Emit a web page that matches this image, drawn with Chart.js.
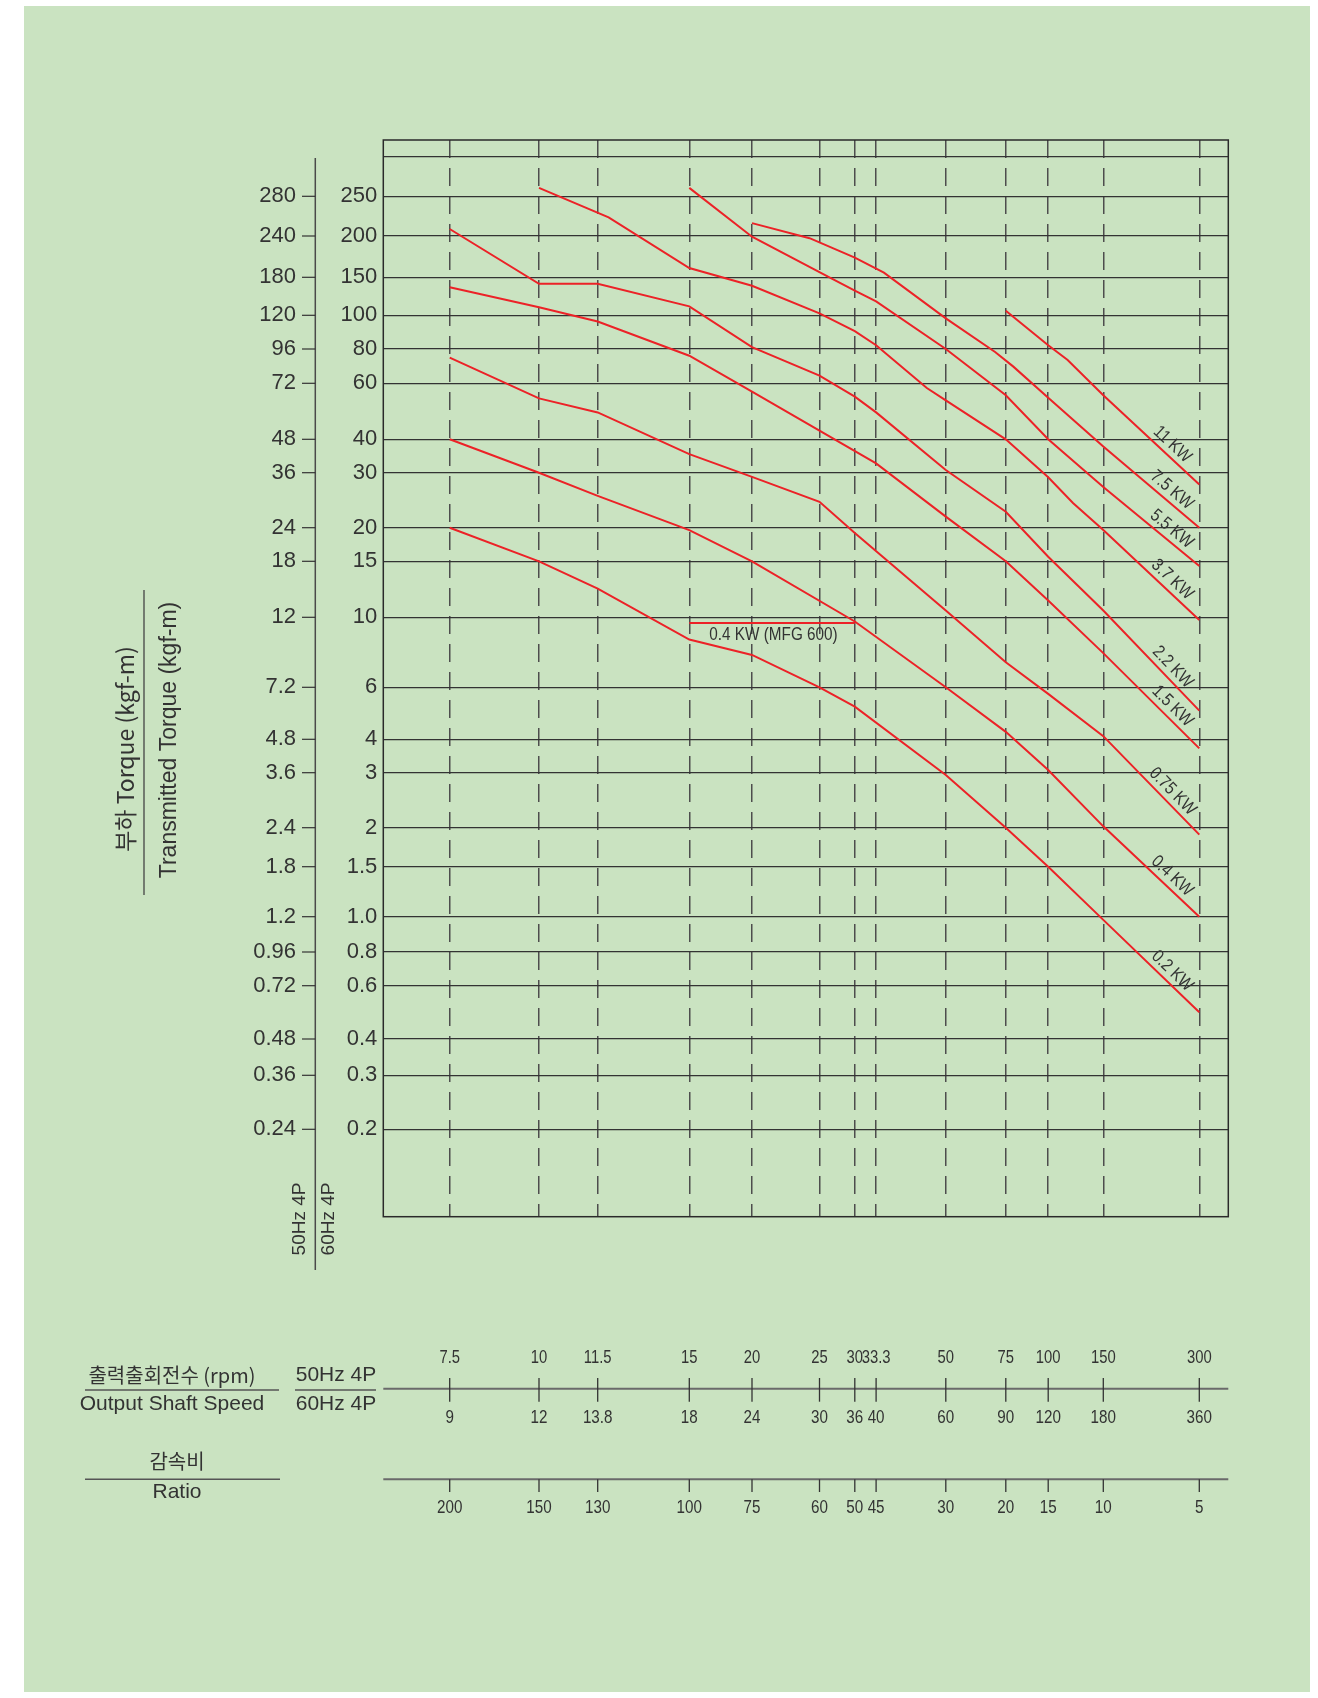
<!DOCTYPE html>
<html><head><meta charset="utf-8">
<script src="https://cdn.jsdelivr.net/npm/chart.js@4.4.0/dist/chart.umd.min.js"></script>
<style>
html,body{margin:0;padding:0;background:#ffffff;}
#bg{position:absolute;left:24px;top:6px;width:1286px;height:1686px;background:#cae3c1;}
canvas{position:absolute;left:0;top:0;}
</style></head><body>
<div id="bg"></div>
<canvas id="c" width="1318" height="1698"></canvas>
<script>
// ---------------- DATA ----------------
const ratioTicks = [200,150,130,100,75,60,50,45,30,20,15,10,5];
const ratioLabels = ['200','150','130','100','75','60','50','45','30','20','15','10','5'];
const speed50Labels = ['7.5','10','11.5','15','20','25','30','33.3','50','75','100','150','300'];
const speed60Labels = ['9','12','13.8','18','24','30','36','40','60','90','120','180','360'];

const torqueTicks = [300,250,200,150,100,80,60,40,30,20,15,10,6,4,3,2,1.5,1.0,0.8,0.6,0.4,0.3,0.2];
const torqueLabels60 = ['','250','200','150','100','80','60','40','30','20','15','10','6','4','3','2','1.5','1.0','0.8','0.6','0.4','0.3','0.2'];
const torqueLabels50 = ['','280','240','180','120','96','72','48','36','24','18','12','7.2','4.8','3.6','2.4','1.8','1.2','0.96','0.72','0.48','0.36','0.24'];

const ratio_11kw  = [20,15,13,10,5];
const torque_11kw = [105,82,73,55,27.5];
const ratio_7_5kw  = [75,62,50,43,30,21.5,19,15,10,5];
const torque_7_5kw = [215,197,172,155,98,78,69,54,37.6,20];
const ratio_5_5kw  = [100,75,57,50,45,30,20,15,10,5];
const torque_5_5kw = [260,199,150,130,116,80,55,40,27,14.5];
const ratio_3_7kw  = [150,126,100,75,60,50,45,33.5,30,20,15,12.5,10,5];
const torque_3_7kw = [260,222,160,137,102,90,82,58,53,40,29,24,19.6,9.8];
const ratio_2_2kw  = [200,150,130,100,75,60,50,45,30,20,15,10,5];
const torque_2_2kw = [208,140,140,110,81,64,54.5,48.6,30.7,22.5,15.6,10.5,5];
const ratio_1_5kw  = [200,150,130,100,75,45,30,20,15,10,5];
const torque_1_5kw = [135,109,96,75.6,56.5,32.5,21.7,15,11.3,7.7,3.7];
const ratio_0_75kw  = [200,150,130,100,75,60,50,30,20,15,10,5];
const torque_0_75kw = [74.4,53.8,48.6,35.2,29.1,24.2,19.1,10.5,7.2,5.7,4.1,1.9];
const ratio_0_4kw  = [200,150,130,100,75,50,30,20,15,10,5];
const torque_0_4kw = [40,30,25.3,19.6,15,9.7,6,4.24,3.07,2.02,1.0];
const ratio_0_2kw  = [200,150,130,100,75,60,50,30,20,15,10,5];
const torque_0_2kw = [20,15,12.3,8.5,7.6,6,5.16,2.95,2,1.5,0.98,0.49];
const ratio_mfg600  = [100,50];
const torque_mfg600 = [9.6,9.6];

// ---------------- LAYOUT (axis geometry of the printed chart) ----------------
const ratioAxisPos = [66.4,155.7,214.4,306,368.7,436.2,471.5,492.8,562.5,622.5,664.9,720,816];
const xAxisMax = 845;
const torqueAxisPos = [1059.7,1020.4,980.7,939.4,901.4,867.7,833.4,777.4,744.0,689.0,655.4,599.4,529.4,477.4,444.0,389.0,350.0,300.0,264.7,231.0,177.7,141.4,87.4];
const yAxisMax = 1076.7;
const AREA = {left:383.3, top:140, right:1228.3, bottom:1216.7};
const Y_AXIS_W = 62;

function interpLog(v, vals, pos){
  const n = vals.length;
  let i = 0;
  for (; i < n-2; i++){
    const lo = Math.min(vals[i],vals[i+1]), hi = Math.max(vals[i],vals[i+1]);
    if (v >= lo && v <= hi) break;
  }
  const a = vals[i], b = vals[i+1];
  const f = Math.log(v/a)/Math.log(b/a);
  return pos[i] + f*(pos[i+1]-pos[i]);
}
const xUnit = r => interpLog(r, ratioTicks, ratioAxisPos);
const yUnit = t => interpLog(t, torqueTicks, torqueAxisPos);

const RED = '#ec2227';
function mk(label, rs, ts){
  return {label, data: rs.map((r,i)=>({x:xUnit(r), y:yUnit(ts[i])})),
    borderColor:RED, borderWidth:2, pointRadius:0, tension:0, fill:false};
}
const datasets = [
  mk('11 KW', ratio_11kw, torque_11kw),
  mk('7.5 KW', ratio_7_5kw, torque_7_5kw),
  mk('5.5 KW', ratio_5_5kw, torque_5_5kw),
  mk('3.7 KW', ratio_3_7kw, torque_3_7kw),
  mk('2.2 KW', ratio_2_2kw, torque_2_2kw),
  mk('1.5 KW', ratio_1_5kw, torque_1_5kw),
  mk('0.75 KW', ratio_0_75kw, torque_0_75kw),
  mk('0.4 KW', ratio_0_4kw, torque_0_4kw),
  mk('0.2 KW', ratio_0_2kw, torque_0_2kw),
  mk('MFG600', ratio_mfg600, torque_mfg600)
];

const TXT = '#333333';
const LAT = '"Liberation Sans", Arial, sans-serif';
const KOR = '"Noto Sans CJK KR", "Liberation Sans", sans-serif';

function text(ctx, s, x, y, font, align, sx, rot){
  ctx.save();
  ctx.translate(x, y);
  if (rot) ctx.rotate(rot);
  if (sx) ctx.scale(sx, 1);
  ctx.font = font; ctx.fillStyle = TXT;
  ctx.textAlign = align || 'center'; ctx.textBaseline = 'middle';
  ctx.fillText(s, 0, 0);
  ctx.restore();
}
function line(ctx, x1, y1, x2, y2){
  ctx.beginPath(); ctx.moveTo(x1,y1); ctx.lineTo(x2,y2); ctx.stroke();
}

const decor = {
  id:'decor',
  afterDraw(chart){
    const ctx = chart.ctx, xs = chart.scales.x, ys = chart.scales.y, ca = chart.chartArea;
    ctx.save();
    // frame
    ctx.strokeStyle = '#2a2a2a'; ctx.lineWidth = 1.5;
    ctx.strokeRect(ca.left, ca.top, ca.right-ca.left, ca.bottom-ca.top);

    // 50Hz torque column
    ctx.strokeStyle = '#4a4a4a'; ctx.lineWidth = 1.5;
    line(ctx, 315.3, ys.getPixelForValue(yUnit(300))+1, 315.3, 1270);
    torqueTicks.forEach((t,i)=>{
      if (!torqueLabels50[i]) return;
      const py = ys.getPixelForValue(yUnit(t));
      ctx.strokeStyle = '#333'; ctx.lineWidth = 1.2;
      line(ctx, 302, py, 315.3, py);
      text(ctx, torqueLabels50[i], 296, py, '22px '+LAT, 'right');
    });
    text(ctx, '50Hz 4P', 300, 1219, '19px '+LAT, 'center', 0, -Math.PI/2);
    text(ctx, '60Hz 4P', 329, 1219, '19px '+LAT, 'center', 0, -Math.PI/2);

    // left titles
    text(ctx, '부하 Torque (kgf-m)', 125, 749, '23px '+KOR, 'center', 0, -Math.PI/2);
    text(ctx, 'Transmitted Torque (kgf-m)', 170, 740, '23px '+LAT, 'center', 0, -Math.PI/2);
    ctx.strokeStyle = '#444'; ctx.lineWidth = 1.3;
    line(ctx, 144, 590, 144, 895);

    // speed axis
    ctx.strokeStyle = '#6a6a6a'; ctx.lineWidth = 2;
    line(ctx, ca.left, 1388.7, ca.right, 1388.7);
    line(ctx, ca.left, 1479.3, ca.right, 1479.3);
    ratioTicks.forEach((r,i)=>{
      const px = xs.getPixelForValue(xUnit(r));
      ctx.strokeStyle = '#333'; ctx.lineWidth = 1.3;
      line(ctx, px, 1378, px, 1401.7);
      line(ctx, px, 1479.3, px, 1492);
      text(ctx, speed50Labels[i], px, 1358, '19px '+LAT, 'center', 0.78);
      text(ctx, speed60Labels[i], px, 1418, '19px '+LAT, 'center', 0.8);
      text(ctx, ratioLabels[i], px, 1508, '19px '+LAT, 'center', 0.8);
    });
    // bottom-left captions
    text(ctx, '출력출회전수 (rpm)', 172, 1375, '20px '+KOR, 'center');
    text(ctx, 'Output Shaft Speed', 172, 1404, '21px '+LAT, 'center');
    ctx.strokeStyle = '#555'; ctx.lineWidth = 1.5;
    line(ctx, 85, 1390, 279, 1390);
    text(ctx, '50Hz 4P', 336, 1375, '21px '+LAT, 'center');
    text(ctx, '60Hz 4P', 336, 1404, '21px '+LAT, 'center');
    line(ctx, 295, 1390, 376, 1390);
    text(ctx, '감속비', 177, 1461, '20px '+KOR, 'center');
    line(ctx, 85, 1479.3, 280, 1479.3);
    text(ctx, 'Ratio', 177, 1492, '21px '+LAT, 'center');

    // curve labels along last segment
    chart.data.datasets.forEach((ds, di)=>{
      const meta = chart.getDatasetMeta(di);
      if (ds.label === 'MFG600'){
        const p = meta.data[0];
        text(ctx, '0.4 KW (MFG 600)', p.x + 20, p.y + 12, '18px '+LAT, 'left', 0.85);
        return;
      }
      const pts = meta.data, n = pts.length;
      const p1 = pts[n-2], p2 = pts[n-1];
      const a = Math.atan2(p2.y-p1.y, p2.x-p1.x);
      const t = 0.64, d = 11;
      const x = p1.x + t*(p2.x-p1.x) + d*Math.sin(a);
      const y = p1.y + t*(p2.y-p1.y) - d*Math.cos(a);
      text(ctx, ds.label, x, y, '18px '+LAT, 'center', 0.85, a);
    });
    ctx.restore();
  }
};

new Chart(document.getElementById('c'), {
  type:'line',
  data:{datasets},
  options:{
    responsive:false, animation:false, devicePixelRatio:1,
    layout:{padding:{left:AREA.left - Y_AXIS_W, top:AREA.top, right:1318-AREA.right, bottom:1698-AREA.bottom}},
    plugins:{legend:{display:false}, tooltip:{enabled:false}},
    scales:{
      x:{type:'linear', min:0, max:xAxisMax,
        afterFit(s){ s.height = 0; },
        afterBuildTicks(s){ s.ticks = ratioTicks.map(r=>({value:xUnit(r)})); },
        ticks:{display:false},
        grid:{color:'#4d4d4d', lineWidth:1.5, drawTicks:false},
        border:{display:false, dash:[18,10], dashOffset:0}
      },
      y:{type:'linear', min:0, max:yAxisMax,
        afterFit(s){ s.width = Y_AXIS_W; },
        afterBuildTicks(s){ s.ticks = torqueTicks.map(t=>({value:yUnit(t)})); },
        ticks:{autoSkip:false, padding:6, color:TXT, font:{family:'Liberation Sans', size:22},
          callback:(v,i)=>torqueLabels60[i]},
        grid:{color:'#333333', lineWidth:1.3, drawTicks:false},
        border:{display:false}
      }
    }
  },
  plugins:[decor]
});
</script>
</body></html>
